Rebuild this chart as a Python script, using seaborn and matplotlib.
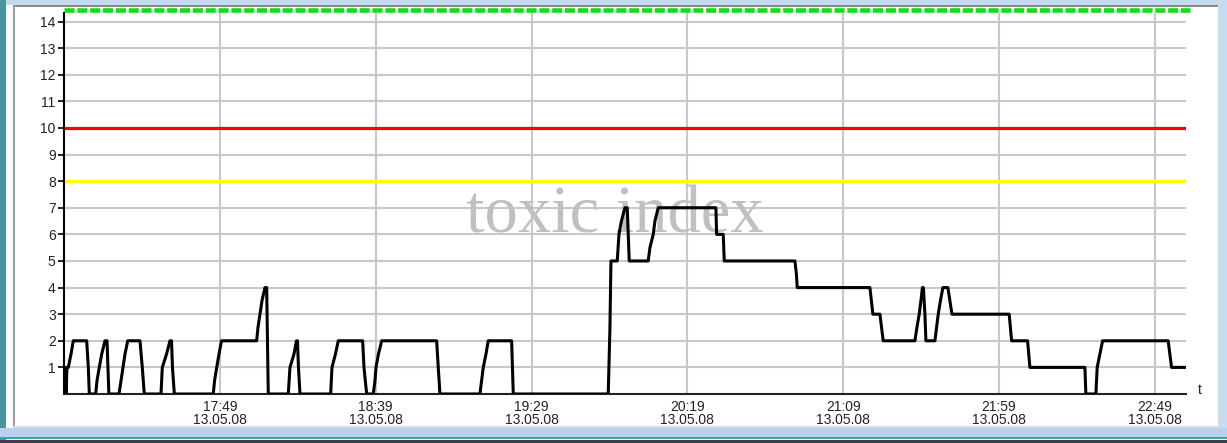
import pandas as pd
import matplotlib.pyplot as plt
import seaborn as sns
from matplotlib.patches import Rectangle

# toxic index readings, x = minutes after 16:59 on 13.05.08
minutes = [0.0, 0.32, 0.64, 0.96, 1.38, 2.25, 2.98, 7.28, 7.8, 8.12,
           10.17, 10.59, 11.32, 12.1, 13.15, 13.8, 14.1, 14.4, 17.65, 18.29,
           18.93, 19.57, 20.44, 24.38, 25.12, 25.76, 31.12, 31.54, 32.9, 34.0,
           34.5, 34.8, 35.4, 47.9, 48.3, 49.0, 49.73, 50.53, 61.82, 62.24,
           62.88, 63.52, 64.48, 65.03, 65.54, 71.96, 72.5, 73.79, 74.59, 74.91,
           75.23, 75.71, 85.56, 85.98, 87.1, 88.0, 95.83, 96.25, 97.11, 99.23,
           99.78, 100.1, 100.9, 101.93, 119.57, 120.08, 120.63, 133.46, 134.52, 135.39,
           136.12, 143.63, 144.15, 174.62, 175.17, 175.49, 177.51, 178.06, 178.86, 179.98,
           180.72, 181.36, 187.45, 188.0, 189.06, 189.6, 190.66, 209.17, 209.4, 211.52,
           211.84, 234.52, 235.0, 235.26, 258.58, 259.54, 261.79, 262.85, 273.02, 273.66,
           274.4, 274.94, 275.43, 275.75, 276.23, 276.55, 279.44, 280.5, 281.2, 282.0,
           283.6, 284.25, 284.9, 303.27, 304.04, 309.17, 309.91, 327.56, 327.88, 331.09,
           331.5, 332.37, 333.24, 354.28, 354.82, 355.37, 360.0]
toxic = [0, 1, 0, 1, 1, 1.5, 2, 2, 1, 0,
         0, 0.5, 1, 1.5, 2, 2, 1, 0, 0, 0.5,
         1, 1.5, 2, 2, 1, 0, 0, 1, 1.5, 2,
         2, 1, 0, 0, 0.5, 1, 1.5, 2, 2, 2.5,
         3, 3.5, 4, 4, 0, 0, 1, 1.5, 2, 2,
         1, 0, 0, 1, 1.5, 2, 2, 1, 0, 0,
         0.5, 1, 1.5, 2, 2, 1, 0, 0, 1, 1.5,
         2, 2, 0, 0, 2.5, 5, 5, 6, 6.5, 7,
         7, 5, 5, 5.5, 6, 6.5, 7, 7, 6, 6,
         5, 5, 4.5, 4, 4, 3, 3, 2, 2, 2.5,
         3, 3.5, 4, 4, 3, 2, 2, 3, 3.5, 4,
         4, 3.5, 3, 3, 2, 2, 1, 1, 0, 0,
         1, 1.5, 2, 2, 1.5, 1, 1]

tick_minutes = [50, 100, 150, 200, 250, 300, 350]
tick_times = ["17:49", "18:39", "19:29", "20:19", "21:09", "21:59", "22:49"]
tick_date = "13.05.08"

max_level = 14.42
alarm_level = 10
warn_level = 8

df = pd.DataFrame({"minute": minutes, "toxic": toxic})

sns.set_style("white")
plt.rcParams["font.family"] = ["Liberation Sans", "DejaVu Sans"]

W, H = 1227, 443
fig = plt.figure(figsize=(W / 100, H / 100), dpi=100)


def box(x, y, w, h, color):
    # rectangle in pixel coords measured from the top-left corner
    fig.add_artist(Rectangle((x / W, 1 - (y + h) / H), w / W, h / H,
                             transform=fig.transFigure, color=color, lw=0))


# window frame
box(0, 0, W, 5, "#c4d9ee")
box(13, 5, 1205, 2, "#8a8a8a")
box(0, 0, 6, H, "#4a949b")
box(13, 5, 1.5, 422, "#9a9a9a")
box(1218, 0, 9, 430, "#c8dcf0")
box(13, 426, 1205, 1.5, "#d8d8d8")
box(0, 428, W, 9, "#b9d1ea")
box(0, 437, W, 2, "#3a9fb8")
box(0, 440, W, 3, "#404040")

ax = fig.add_axes([64 / W, 49 / H, 1122 / W, 381 / H])
ax.set_facecolor("white")

ax.grid(True, color="#c8c8c8", lw=1.5)
ax.set_axisbelow(True)

ax.text(0.491, 0.425, "toxic index", transform=ax.transAxes, ha="center", va="baseline",
        fontsize=48, color="#c0c0c0", family=["Liberation Serif", "DejaVu Serif"], zorder=1)

ax.axhline(alarm_level, color="#ff0000", lw=2.3, zorder=2)
ax.axhline(warn_level, color="#ffff00", lw=2.3, zorder=2)
ax.axhline(max_level, xmax=1.004, color="#10e010", lw=3.3, dashes=(2.2, 0.6),
           clip_on=False, zorder=2)

sns.lineplot(data=df, x="minute", y="toxic", color="black", lw=2.2,
             estimator=None, sort=False, ax=ax, zorder=3)

ax.set_xlim(0, 360)
ax.set_ylim(0, 14.32)
ax.set_yticks(range(1, 15))
ax.set_xticks(tick_minutes, [f"{t}\n{tick_date}" for t in tick_times])
ax.set_xlabel("")
ax.set_ylabel("")
ax.tick_params(axis="y", length=4, width=1.2, color="black", pad=2,
               labelsize=10, labelcolor="#222222", left=True)
ax.tick_params(axis="x", length=0, pad=4, labelsize=10, labelcolor="#222222")
plt.setp(ax.get_xticklabels(), linespacing=0.95)

for side in ["top", "right"]:
    ax.spines[side].set_visible(False)
ax.spines["left"].set_color("black")
ax.spines["left"].set_linewidth(1.5)
ax.spines["bottom"].set_color("#222222")
ax.spines["bottom"].set_linewidth(1.5)

ax.text(1.0125, 0.01, "t", transform=ax.transAxes, ha="center", va="center",
        fontsize=10, color="#222222")

fig.savefig("out.png", dpi=100)
